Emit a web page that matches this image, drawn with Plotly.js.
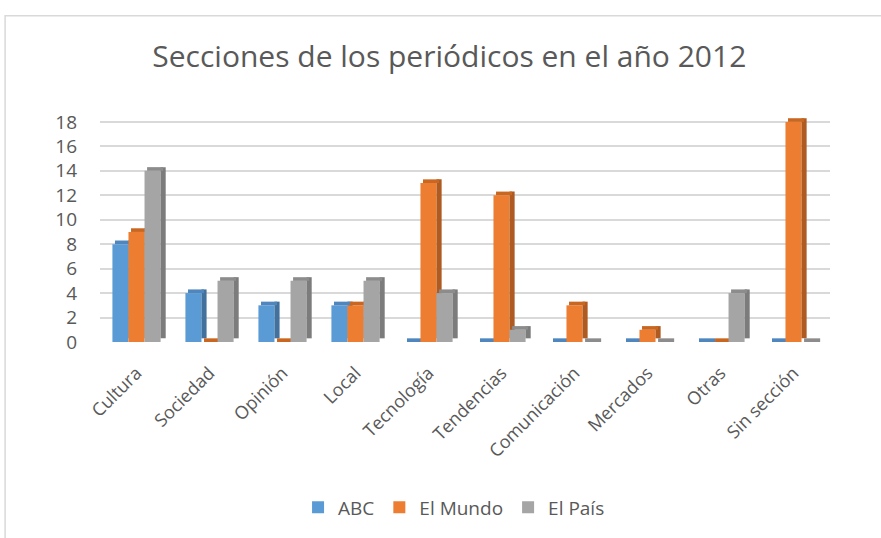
<!DOCTYPE html>
<html>
<head>
<meta charset="utf-8">
<script src="https://cdn.plot.ly/plotly-3.0.1.min.js"></script>
<style>html,body{margin:0;padding:0;background:#fff;}#chart{width:881px;height:538px;}</style>
</head>
<body>
<div id="chart"></div>
<script>
const categories = ["Cultura","Sociedad","Opinión","Local","Tecnología","Tendencias","Comunicación","Mercados","Otras","Sin sección"];
const abc      = [8, 4, 3, 3, 0, 0, 0, 0, 0, 0];
const elMundo  = [9, 0, 0, 3, 13, 12, 3, 1, 0, 18];
const elPais   = [14, 5, 5, 5, 4, 1, 0, 0, 4, 0];
const seriesNames = ["ABC", "El Mundo", "El País"];

const series = [abc, elMundo, elPais];
const front = ["#5b9bd5", "#ed7d31", "#a5a5a5"];
const side  = ["#41719c", "#ae5a21", "#7c7c7c"];
const topc  = ["#4f86bd", "#c9661f", "#8c8c8c"];
const W = 0.22, SW = 0.07, D = 0.3;
const offs = [-0.33, -0.11, 0.11];

const traces = [];
series.forEach((vals, i) => {
  traces.push({type:"bar", name:seriesNames[i], x:categories, y:vals, width:W, offset:offs[i],
    marker:{color:front[i], line:{width:0}}, hoverinfo:"y", legendgroup:"g"+i});
  traces.push({type:"bar", x:categories, y:vals, base:D, width:SW, offset:offs[i]+W,
    marker:{color:side[i], line:{width:0}}, showlegend:false, hoverinfo:"skip", legendgroup:"g"+i});
  traces.push({type:"bar", x:categories, y:vals.map(() => D), base:vals, width:W, offset:offs[i]+0.035,
    marker:{color:topc[i], line:{width:0}}, showlegend:false, hoverinfo:"skip", legendgroup:"g"+i});
});

const layout = {
  width: 881, height: 538,
  margin: {l: 100, r: 51, t: 117, b: 194},
  paper_bgcolor: "#fff", plot_bgcolor: "#fff",
  barmode: "overlay",
  font: {family: "Open Sans, sans-serif", color: "#595959"},
  title: {text: "Secciones de los periódicos en el año 2012", x: 0.51, xanchor: "center", y: 0.895, yanchor: "middle",
          font: {size: 30, color: "#595959", family: "Open Sans, sans-serif"}},
  xaxis: {type: "category", tickangle: -45, tickfont: {size: 18, color: "#595959"}, ticklabelstandoff: 16,
          showgrid: false, zeroline: false, showline: false, ticks: "", range: [-0.5, 9.5]},
  yaxis: {range: [0, 18.4], dtick: 2, tick0: 0, showgrid: true, gridcolor: "#d9d9d9", gridwidth: 2,
          zeroline: false, showline: false, ticks: "", tickfont: {size: 19, color: "#595959"}, ticklabelstandoff: 22},
  legend: {orientation: "h", x: 0.485, xanchor: "center", y: -0.735, yanchor: "middle",
           font: {size: 19, color: "#595959"}, itemwidth: 30, traceorder: "normal"},
  showlegend: true,
  shapes: [{type: "rect", xref: "paper", yref: "paper", x0: -0.130, x1: 1.2, y0: -1.5, y1: 1.45,
            line: {color: "#d9d9d9", width: 1.5}, fillcolor: "rgba(0,0,0,0)", layer: "below"}]
};

Plotly.newPlot("chart", traces, layout, {displayModeBar: false, staticPlot: true});
</script>
</body>
</html>
